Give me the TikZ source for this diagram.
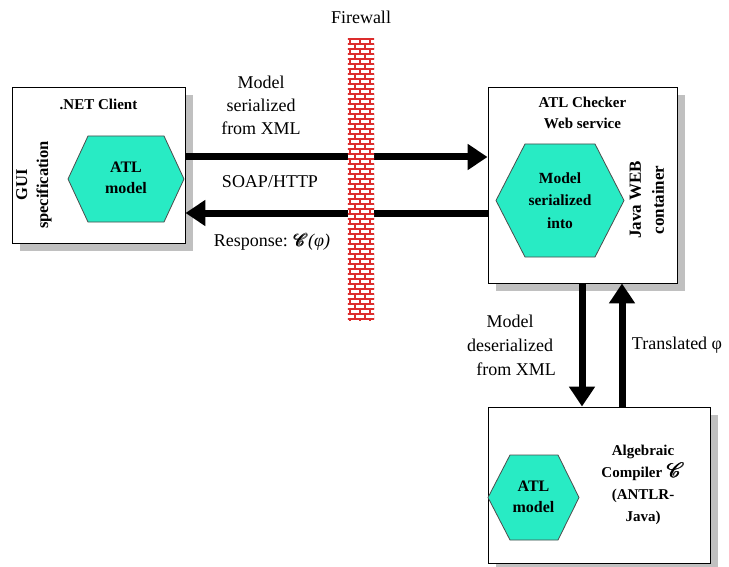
\documentclass[tikz,border=0pt]{standalone}
\usepackage{fontspec}
\setmainfont{Liberation Serif}
\usepackage{amsmath}
\usepackage{mathrsfs}
\usetikzlibrary{arrows.meta,shadows}

\definecolor{hexcol}{RGB}{40,235,196}
\definecolor{brickred}{RGB}{220,45,45}
\definecolor{shade}{RGB}{192,192,192}

\tikzset{
  box/.style={draw=black, line width=0.9bp, fill=white, inner sep=0pt,
    drop shadow={shadow xshift=8bp, shadow yshift=-8bp, fill=shade, opacity=1}},
  hexa/.style={draw=black!70, line width=0.8bp, fill=hexcol},
  bigarrow/.style={line width=7bp, -{Triangle[length=20bp,width=25bp]}},
  lbl/.style={align=center, inner sep=0pt, font=\fontsize{18bp}{23bp}\selectfont},
  blbl/.style={align=center, inner sep=0pt, font=\fontsize{15bp}{21bp}\selectfont\bfseries},
  hlbl/.style={blbl, font=\fontsize{16bp}{21bp}\selectfont\bfseries},
  brickline/.style={draw=brickred, line width=1.3bp},
}
% bold script C used for the compiler function
\newcommand{\compC}{\ensuremath{\pmb{\mathscr{C}}}}

\begin{document}
\begin{tikzpicture}[x=1bp, y=-1bp]
\useasboundingbox (0,0) rectangle (729,567);

% the three component boxes
\node[box, minimum width=173bp, minimum height=156bp] (client) at (98.5,165) {};
\node[box, minimum width=189bp, minimum height=196bp] (checker) at (582.5,185) {};
\node[box, minimum width=222bp, minimum height=156bp] (compiler) at (599,485) {};

% .NET client contents
\node[blbl] (clientname) at (98.5,104) {.NET Client};
\node[blbl, rotate=90, font=\fontsize{16.5bp}{21bp}\selectfont\bfseries] (gui) at (34,185) {GUI\\specification};
\draw[hexa] (68,179) -- (88,136) -- (164,136) -- (184,179) -- (164,222) -- (88,222) -- cycle;
\node[hlbl] (atl1) at (126,178) {ATL\\model};

% checker web service contents
\node[blbl] (checkername) at (582.5,113) {ATL Checker\\Web service};
\draw[hexa] (496,200.5) -- (525,144) -- (595,144) -- (624,200.5) -- (595,257) -- (525,257) -- cycle;
\node[blbl, font=\fontsize{15.5bp}{22.5bp}\selectfont\bfseries] (ser) at (560,200.5) {Model\\serialized\\into};
\node[blbl, rotate=90, font=\fontsize{17bp}{23bp}\selectfont\bfseries] (java) at (647,200) {Java WEB\\container};

% compiler contents
\draw[hexa] (488,497.5) -- (510,455) -- (558,455) -- (579,497.5) -- (558,540) -- (510,540) -- cycle;
\node[hlbl] (atl2) at (533.5,497) {ATL\\model};
\node[blbl, font=\fontsize{15bp}{22bp}\selectfont\bfseries] (algc) at (643,485)
  {Algebraic\\Compiler\hspace{5bp}{\fontsize{21bp}{22bp}\selectfont\compC}\\(ANTLR-\\Java)};

% message arrows
\coordinate (yreq) at (0,157);
\coordinate (yres) at (0,213);
\draw[bigarrow] (client.east |- yreq) -- (checker.west |- yreq);
\draw[bigarrow] (checker.west |- yres) -- (client.east |- yres);
\coordinate (xdown) at (582,0);
\coordinate (xup) at (622,0);
\draw[bigarrow] (checker.south -| xdown) -- (compiler.north -| xdown);
\draw[bigarrow] (compiler.north -| xup) -- (checker.south -| xup);

% firewall
\node[fill=white, inner sep=0pt, minimum width=26bp, minimum height=281bp] (wall) at (361,179.5) {};
\begin{scope}
  \clip (wall.north west) rectangle (wall.south east);
  \foreach \i in {0,...,56}{
    \pgfmathsetmacro\yy{39+5*\i}
    \pgfmathsetmacro\off{mod(\i,2)==0 ? 2 : 7}
    \draw[brickline] (340,\yy) -- (380,\yy);
    \foreach \k in {0,1,2}{
      \draw[brickline] (348+\off+10*\k,\yy) -- ++(0,5);
    }
  }
\end{scope}
\node[lbl] (fwlabel) at (361,17) {Firewall};

% arrow labels
\node[lbl] (req) at (261,105) {Model\\serialized\\from XML};
\node[lbl] (soap) at (270,182) {SOAP/HTTP};
\node[lbl] (resp) at (272,242) {Response: \compC\textit{(φ)}};
\node[lbl, font=\fontsize{18bp}{24bp}\selectfont] (deser) at (510,345) {Model\\deserialized\\\hspace*{12bp}from XML};
\node[lbl] (transl) at (677,345) {Translated φ};
\end{tikzpicture}
\end{document}
